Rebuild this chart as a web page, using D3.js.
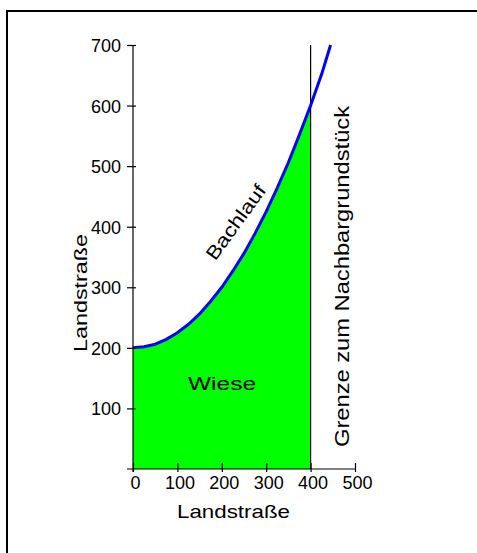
<!DOCTYPE html>
<html><head><meta charset="utf-8">
<script src="https://cdn.jsdelivr.net/npm/d3@7"></script>
<style>
html,body{margin:0;padding:0;background:#fff;}
svg{display:block;font-family:"Liberation Sans",Arial,sans-serif;}
</style></head>
<body>
<script>
// ---- data ----
const bachX = [0, 25, 50, 75, 100, 125, 150, 175, 200, 225, 250, 275, 300, 325, 350, 375, 400, 425, 445];
const bachY = [200, 202, 206, 214, 225, 239, 256, 277, 300, 327, 356, 389, 425, 464, 506, 552, 600, 652, 700];
const xTicks = [0, 100, 200, 300, 400, 500];
const yTicks = [100, 200, 300, 400, 500, 600, 700];
const grenzeX = 400;
const xLabel = "Landstraße";
const yLabel = "Landstraße";
const curveLabel = "Bachlauf";
const areaLabel = "Wiese";
const borderLabel = "Grenze zum Nachbargrundstück";

const W = 477, H = 553;
const svg = d3.select("body").append("svg").attr("width", W).attr("height", H);

// frame (top and left edges visible)
svg.append("line").attr("x1", 7).attr("x2", W).attr("y1", 11).attr("y2", 11).attr("stroke", "#000").attr("stroke-width", 2);
svg.append("line").attr("x1", 7).attr("x2", 7).attr("y1", 10).attr("y2", H).attr("stroke", "#000").attr("stroke-width", 2);

const x = d3.scaleLinear().domain([0, 500]).range([133, 355]);
const y = d3.scaleLinear().domain([0, 700]).range([469, 45]);

const pts = bachX.map((v, i) => ({x: v, y: bachY[i]}));
const inside = pts.filter(p => p.x <= grenzeX);

// green area
const area = d3.area().x(d => x(d.x)).y0(y(0)).y1(d => y(d.y));
svg.append("path").datum(inside).attr("d", area).attr("fill", "#00ff00");

// border line
svg.append("line").attr("x1", x(grenzeX)).attr("x2", x(grenzeX))
  .attr("y1", y(700)).attr("y2", y(0)).attr("stroke", "#000").attr("stroke-width", 1.2);

// creek
const line = d3.line().x(d => x(d.x)).y(d => y(d.y));
svg.append("path").datum(pts).attr("d", line).attr("fill", "none")
  .attr("stroke", "#0000ff").attr("stroke-width", 3);

// axes
const gx = svg.append("g").attr("transform", `translate(0,${y(0)})`)
  .call(d3.axisBottom(x).tickValues(xTicks).tickFormat(d3.format("d")).tickSize(0).tickPadding(0));
gx.select(".domain").remove();
gx.append("line").attr("x1", 127).attr("x2", x(500)).attr("stroke", "#000").attr("stroke-width", 1.2);
gx.selectAll(".tick line").attr("y1", -6).attr("y2", 3).attr("stroke", "#000").attr("stroke-width", 1.2);
gx.selectAll(".tick text").attr("y", 20).attr("dy", 0).attr("dx", 2)
  .attr("font-size", 18).attr("font-family", "Liberation Sans, Arial, sans-serif").attr("fill", "#000");

const gy = svg.append("g").attr("transform", `translate(${x(0)},0)`)
  .call(d3.axisLeft(y).tickValues(yTicks).tickFormat(d3.format("d")).tickSize(0).tickPadding(0));
gy.select(".domain").remove();
gy.append("line").attr("y1", y(700)).attr("y2", y(0) + 3).attr("stroke", "#000").attr("stroke-width", 1.2);
gy.selectAll(".tick line").attr("x1", -6).attr("x2", 3).attr("stroke", "#000").attr("stroke-width", 1.2);
gy.selectAll(".tick text").attr("x", -12).attr("dy", "0.36em")
  .attr("font-size", 18).attr("font-family", "Liberation Sans, Arial, sans-serif").attr("fill", "#000");

// labels
function label(sel, len) {
  return sel.attr("text-anchor", "middle").attr("textLength", len).attr("lengthAdjust", "spacingAndGlyphs");
}
label(svg.append("text").attr("x", 233.5).attr("y", 518).attr("font-size", 19).text(xLabel), 113);
label(svg.append("text").attr("transform", "translate(86.5,293) rotate(-90)").attr("font-size", 19).text(yLabel), 118);
label(svg.append("text").attr("x", 222).attr("y", 390).attr("font-size", 19).text(areaLabel), 68);
label(svg.append("text").attr("transform", "translate(241,226) rotate(-54)").attr("font-size", 19).text(curveLabel), 88);
label(svg.append("text").attr("transform", "translate(349,276.5) rotate(-90)").attr("font-size", 21).text(borderLabel), 341);
</script>
</body></html>
